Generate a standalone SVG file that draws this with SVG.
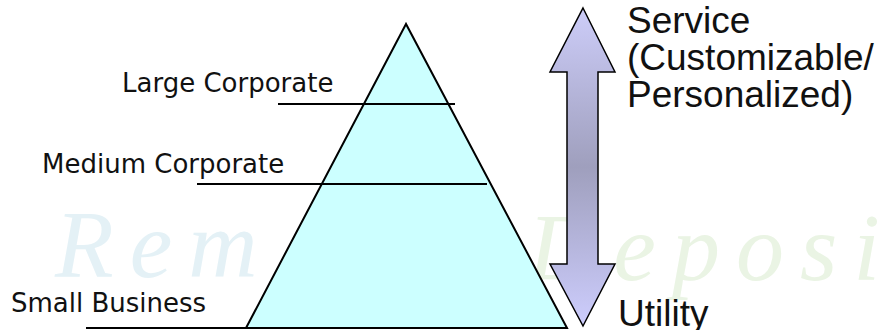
<svg xmlns="http://www.w3.org/2000/svg" width="886" height="330" viewBox="0 0 886 330">
<style>
.wm{font-family:"Liberation Serif",serif;font-style:italic;font-size:96px;letter-spacing:16px}
.lbl{font-family:"DejaVu Sans",Verdana,sans-serif;font-size:26px;fill:#111}
.big{font-family:"Liberation Sans",Arial,sans-serif;font-size:37px;fill:#111}
.ln{stroke:#000;stroke-width:2;fill:none}
</style>
<defs>
<linearGradient id="ag" x1="0" y1="0" x2="0" y2="1">
<stop offset="0" stop-color="#cdcdf9"/>
<stop offset="0.5" stop-color="#9f9fbd"/>
<stop offset="1" stop-color="#cdcdfd"/>
</linearGradient>
</defs>
<rect width="886" height="330" fill="#fff"/>
<g id="watermark">
<text class="wm" x="55" y="277" fill="#e4f1f6">Rem</text>
<text class="wm" x="528" y="280" fill="#eaf4e4">Deposi</text>
</g>
<g id="pyramid">
<polygon points="406,24 246,328 567,328" fill="#ccffff" stroke="#000" stroke-width="2" stroke-linejoin="miter"/>
</g>
<g id="connectors">
<line class="ln" x1="278" y1="104" x2="455" y2="104"/>
<line class="ln" x1="197" y1="184" x2="487" y2="184"/>
<line class="ln" x1="86" y1="328" x2="567" y2="328"/>
</g>
<g id="arrow">
<polygon points="583,8 615,72 598,72 598,264 615,264 583,326 550,264 567,264 567,72 550,72" fill="url(#ag)" stroke="#000" stroke-width="1.5"/>
</g>
<g id="label-large"><text class="lbl" x="122" y="92">Large Corporate</text></g>
<g id="label-medium"><text class="lbl" x="42" y="173">Medium Corporate</text></g>
<g id="label-small"><text class="lbl" x="11" y="312">Small Business</text></g>
<g id="label-service">
<text class="big" x="627" y="33">Service</text>
<text class="big" x="627" y="70">(Customizable/</text>
<text class="big" x="627" y="107">Personalized)</text>
</g>
<g id="label-utility"><text class="big" x="618" y="326">Utility</text></g>
</svg>
